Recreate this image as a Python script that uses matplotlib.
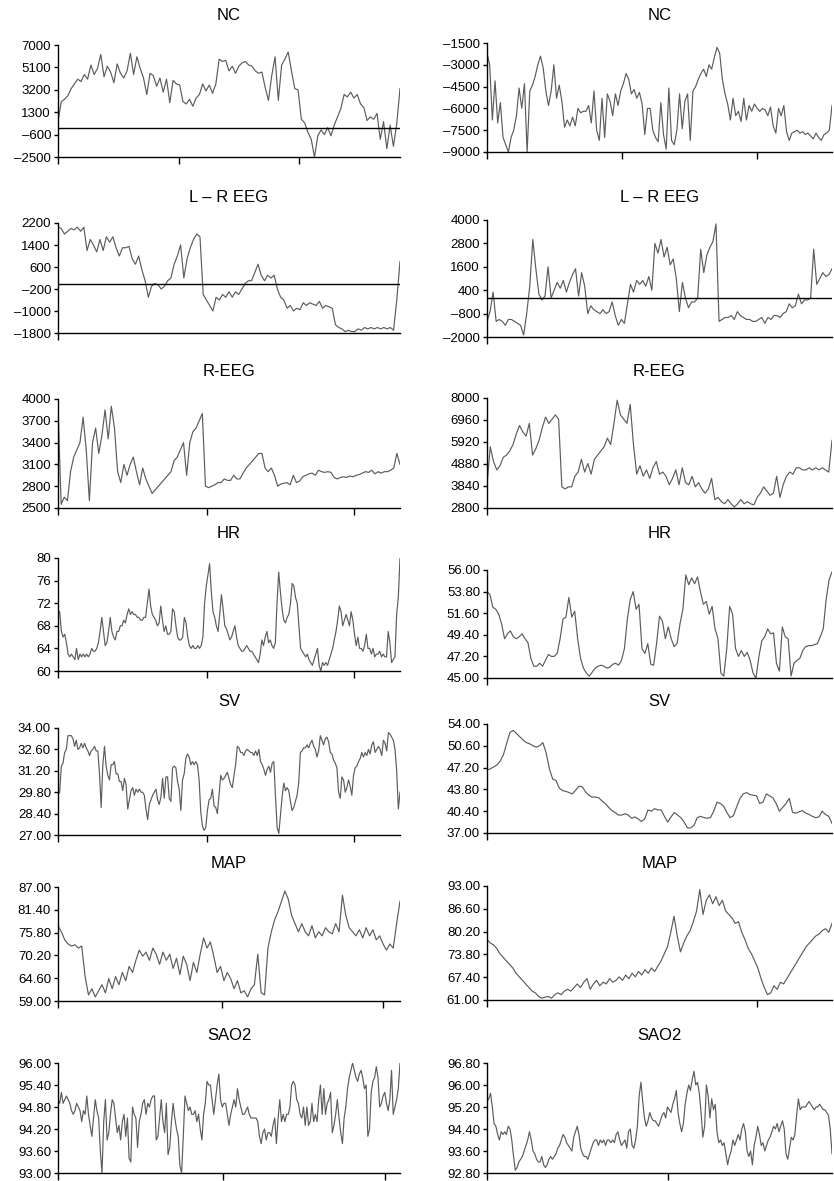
import numpy as np
import matplotlib
matplotlib.use("Agg")
import matplotlib.pyplot as plt

plt.rcParams['font.family'] = ['Liberation Sans', 'DejaVu Sans']

#### DATA (x = sample index)
nc_left = [500, 2200, 2400, 2700, 3300, 3700, 4100, 3900, 4500, 4100, 5300, 4500, 5000, 6200, 4300,
           5200, 4700, 3800, 5400, 4600, 4200, 4800, 6300, 4500, 6000, 5000, 4200, 2800, 4600, 4400,
           3500, 4200, 3000, 4100, 2100, 4000, 3700, 3600, 2200, 2000, 2400, 1800, 2500, 2800, 3700,
           3100, 3600, 2900, 3700, 5800, 5600, 5700, 4800, 5200, 4600, 5200, 5500, 5600, 5300, 5200,
           4800, 4600, 4700, 3400, 2300, 4400, 6000, 2300, 5300, 5800, 6400, 4800, 3300, 3200, 700,
           400, -400, -1000, -2500, -700, -200, -600, 0, -700, 200, 900, 1600, 2800, 2600, 3000,
           2500, 2800, 2000, 1700, 600, 900, 700, 1200, -1000, 500, -1800, 200, -1600, 300, 3300]

nc_right = [-2200, -3000, -6800, -4100, -7000, -5600, -8000, -8500, -9000, -8000, -7500, -6500,
            -4600, -6000, -4300, -9000, -4800, -4400, -3800, -3000, -2400, -3200, -4800, -5800,
            -4800, -3000, -5300, -4400, -5500, -7300, -6800, -7200, -6600, -7200, -6000, -6300,
            -6200, -6200, -5800, -7000, -4800, -7500, -8200, -5300, -8000, -5000, -5500, -6500,
            -5000, -5800, -4800, -4300, -3600, -4000, -5000, -4700, -5300, -4900, -5700, -7800,
            -6000, -6000, -7500, -8000, -8300, -5600, -7800, -8800, -4600, -8200, -8500, -7500,
            -5000, -7400, -5500, -5000, -8200, -4800, -4500, -4000, -3600, -3300, -3800, -3000,
            -3300, -2500, -1800, -2200, -4000, -5000, -5700, -6800, -5300, -6500, -6200, -6900,
            -5300, -6800, -5800, -6200, -5700, -6000, -6200, -6000, -6100, -6500, -5900, -7200,
            -7700, -6000, -6500, -5800, -7600, -8200, -7700, -7600, -7500, -7700, -7600, -7800,
            -7700, -7900, -8100, -7700, -8000, -8200, -7800, -7700, -7500, -5800]

lr_left = [2050, 2000, 1800, 1900, 2000, 1950, 2050, 1900, 2050, 1200, 1600, 1400, 1150, 1600, 1200,
           1700, 1500, 1700, 1300, 1000, 1300, 1300, 1350, 900, 700, 1000, 500, 100, -500, -100,
           0, -50, -200, -100, 100, 200, 700, 1000, 1400, 200, 900, 1300, 1600, 1800, 1700,
           -400, -600, -800, -1000, -500, -600, -400, -500, -300, -500, -300, -400, -200, 0, 100,
           100, 400, 700, 300, 100, 300, 200, 300, -200, -500, -600, -900, -800, -1000, -900,
           -950, -700, -800, -700, -750, -800, -650, -900, -800, -850, -900, -1500, -1600, -1650,
           -1750, -1700, -1750, -1750, -1650, -1700, -1600, -1650, -1600, -1650, -1600, -1650,
           -1600, -1650, -1600, -1700, -600, 800]

lr_right = [-1200, -700, 300, -1200, -1100, -1200, -1400, -1100, -1100, -1200, -1300, -1400, -1900,
            -800, 600, 3000, 1500, 200, -100, 100, 1600, 0, 400, 800, 500, 900, 300, 800, 1200,
            1500, 100, 1300, 600, -800, -400, -600, -700, -800, -600, -800, -700, -200, -900,
            -1400, -1100, -1300, -300, 700, 300, 900, 700, 900, 600, 1100, 400, 2800, 2300, 3000,
            2100, 2600, 1700, 2000, 1000, -700, 800, 0, -500, -200, -200, 0, 2500, 1300, 2200,
            2600, 2900, 3800, -1200, -1100, -1000, -1000, -900, -1100, -700, -900, -1000, -1100,
            -1100, -1200, -1200, -1100, -1000, -1300, -1000, -1100, -900, -900, -1000, -800, -700,
            -300, -500, -400, 200, -300, -100, -100, 0, 2500, 700, 1000, 1300, 1100, 1200, 1500]

reeg_left = [3900, 2550, 2650, 2600, 3000, 3200, 3300, 3400, 3750, 3300, 2600, 3400, 3600, 3250,
             3500, 3850, 3450, 3900, 3600, 3000, 2850, 3100, 2950, 3100, 3200, 3000, 2820, 3050,
             2900, 2800, 2700, 2750, 2800, 2850, 2900, 2950, 3000, 3150, 3200, 3300, 3400, 2950,
             3400, 3550, 3600, 3700, 3800, 2800, 2780, 2800, 2820, 2850, 2850, 2900, 2880, 2880,
             2950, 2900, 2900, 2980, 3050, 3100, 3150, 3200, 3250, 3250, 3050, 3000, 3050, 2950,
             2800, 2830, 2840, 2850, 2820, 2950, 2850, 2870, 2930, 2950, 2970, 2980, 2950, 3020,
             3000, 2990, 3000, 2990, 2920, 2900, 2920, 2930, 2920, 2940, 2930, 2950, 2960, 2980,
             3000, 2990, 3020, 2970, 3000, 2980, 3000, 3000, 3020, 3050, 3250, 3100]

reeg_right = [3900, 5700, 5000, 4600, 4800, 5200, 5300, 5500, 5800, 6300, 6700, 6400, 6200, 6800,
              5300, 5600, 6000, 6600, 7100, 6800, 7000, 7200, 7000, 3800, 3700, 3800, 3800, 4300,
              4500, 5100, 4500, 4900, 4400, 5100, 5300, 5500, 5700, 6100, 5800, 6800, 7900, 7200,
              7000, 6800, 7700, 5800, 4400, 4800, 4300, 4600, 4200, 4700, 5000, 4400, 4500, 4300,
              3900, 4200, 4600, 3900, 4700, 4000, 3900, 4300, 3800, 4000, 3700, 3500, 3700, 4200,
              3200, 3300, 3100, 3000, 3200, 3000, 2850, 3000, 3200, 3000, 3100, 3000, 2950, 3300,
              3500, 3800, 3600, 3400, 3500, 4300, 3300, 3900, 4300, 4500, 4400, 4700, 4700, 4600,
              4600, 4700, 4600, 4700, 4600, 4700, 4600, 4500, 6000]

hr_left = [70.5, 70.5, 67, 66, 66.5, 65, 63, 62.5, 63, 62.5, 62, 64, 62, 63, 62.5, 63, 62.5, 63,
           62.5, 63, 64, 63.5, 63.5, 64, 65, 67, 69.5, 67, 64.5, 65, 67, 69.5, 67, 66, 65.5, 67,
           67, 68, 68, 69, 68.5, 70, 71, 70, 70.5, 70, 70, 69.5, 69.5, 69, 69, 69.5, 69.5, 72,
           74.5, 71.5, 70, 69.5, 69, 68, 68.5, 71.5, 69, 67, 68, 66.5, 66.5, 67, 71, 70.5, 68, 66,
           65.5, 65.5, 66, 69.5, 68.5, 66, 64.5, 64, 64.5, 64, 64, 64.5, 64, 64.5, 66, 72, 75, 77,
           79, 74, 70.5, 69.5, 68, 67, 70, 73.5, 71, 68, 67.5, 66.5, 65.5, 66, 67, 68, 66, 64.5,
           64, 63.5, 63.5, 64, 64.5, 64, 63.5, 63.5, 63, 62.5, 62, 61.5, 63, 65.5, 64.5, 66, 67,
           65, 65.5, 64.5, 64, 65, 72, 77.5, 74, 71, 69, 68.5, 69.5, 70, 72, 75.5, 75, 73, 72, 68,
           64, 63.5, 63, 62.5, 63, 62, 61.5, 61, 62, 63, 64, 61, 60, 61.5, 61, 61.5, 61, 62, 63,
           64, 65.5, 67, 69, 71.5, 70.5, 68, 69, 70, 69, 68, 70.5, 69, 66.5, 64.5, 66, 64, 64,
           63.5, 64.5, 66.5, 64, 64, 63, 64, 62.5, 63, 63, 63.5, 62.5, 63, 62.5, 62.5, 67, 65,
           61.5, 62, 62.5, 70, 73, 80]

hr_right = [53.8, 53.5, 52.2, 52, 51.5, 50.5, 49, 49.5, 49.8, 49.2, 49, 49.2, 49.5, 49, 48.6, 47,
            46.2, 46.2, 46.5, 46.2, 46.8, 47.4, 47.2, 47.2, 47.5, 49, 51, 51.2, 53.2, 51.2, 51.8,
            49, 47, 46, 45.5, 45.2, 45.6, 46, 46.2, 46.3, 46.2, 46, 46.1, 46.4, 46.5, 46.3, 46.8,
            48, 51, 53, 53.8, 52, 52.5, 48, 47.5, 48.5, 46.4, 46.3, 48.5, 51.3, 50.8, 49, 50.2, 49,
            48.2, 48.5, 50.5, 52, 55.5, 54.5, 55.2, 54.6, 55.3, 53.8, 52.5, 52.8, 51.5, 52.3, 50,
            49, 45.5, 45.2, 48, 52.3, 51.5, 48, 47.2, 47.8, 47.2, 47.6, 46.8, 45.5, 45, 47.2, 48.8,
            49.2, 50, 49.5, 49.6, 46.5, 45.7, 50.2, 49.2, 49, 45.2, 46.5, 46.8, 47, 47.8, 48.2,
            48.3, 48.3, 48.4, 48.5, 49.2, 50, 53, 55, 55.8]

sv_left = [29.6, 29.8, 31.5, 31.7, 32.4, 32.6, 33.5, 33.5, 33.5, 33.3, 32.8, 33.2, 32.6, 32.7, 33,
           32.7, 33, 32.7, 32.5, 32.2, 32.5, 32.6, 32.8, 32.5, 32.5, 31, 28.8, 31.6, 32.8, 31.5,
           30.9, 30.6, 31.6, 31.6, 31.8, 31, 31, 30.5, 30.5, 29.9, 30.7, 30.3, 28.7, 29.3, 29.9,
           30.1, 29.6, 30, 29.8, 30, 29.8, 29.8, 29.6, 28.7, 28, 29, 29.3, 29.6, 29.8, 30, 29.3,
           29, 29.5, 30.7, 29.4, 30.8, 30.8, 29.4, 29.2, 31.4, 31.5, 31.4, 30.5, 30, 28.6, 30.6,
           31, 32, 32.3, 32.1, 31.6, 31.8, 31.6, 31.8, 31.6, 30.6, 28.5, 27.6, 27.3, 27.5, 28.6,
           29.3, 29.4, 30, 28.9, 28.8, 28.4, 29.6, 30.9, 30.6, 30.7, 30.9, 31.1, 30.7, 30.3, 30.1,
           30.9, 31.6, 32.8, 32.7, 32.4, 32.4, 32.2, 32.5, 32.6, 32.5, 32.4, 32.4, 32.2, 32.5,
           32.2, 32.6, 31.8, 31.6, 31.3, 30.9, 31.3, 31.5, 31.1, 31.7, 31.8, 29.5, 27.5, 27.1,
           28.3, 29.5, 30.4, 29.9, 30.1, 29.9, 29.2, 28.6, 28.8, 29.2, 29.6, 30.4, 32.4, 32.5,
           32.7, 32.7, 32.9, 32.7, 33.0, 33.2, 32.8, 32.6, 32.1, 32.5, 33.5, 33.2, 32.9, 33.3,
           33.4, 33.1, 32.4, 32.3, 31.9, 31.7, 31.4, 29.8, 29.4, 30.8, 30.6, 29.8, 30.1, 30.6,
           30.2, 29.6, 30.9, 31.4, 31.5, 31.8, 32, 32.4, 32.1, 32.4, 32.2, 32.6, 32.3, 32.9, 33.1,
           32.4, 32.6, 32.8, 32.6, 32.2, 33.2, 33, 32.5, 33.7, 33.6, 33.4, 33.2, 32.6, 31.2, 28.7,
           29.8]

sv_right = [46.8, 47, 47.3, 47.6, 48.2, 49.2, 51, 52.7, 53, 52.5, 52, 51.5, 51.1, 50.9, 50.6, 50.4,
            50.6, 51.1, 49.5, 47, 45.4, 45.2, 44, 43.6, 43.5, 43.3, 43.1, 43.7, 44.3, 44.2, 43.4,
            42.9, 42.6, 42.6, 42.5, 42, 41.6, 41, 40.5, 40.2, 39.8, 39.8, 40, 39.8, 39.3, 39.5,
            39.2, 38.8, 39.2, 40.6, 40.4, 40.8, 40.6, 40.6, 39.6, 38.7, 39.5, 40.2, 39.8, 39.4,
            38.7, 37.8, 37.8, 38.2, 39.4, 39.6, 39.4, 39.3, 39.4, 40.4, 41.8, 41.6, 41.2, 40.2,
            39.4, 39.7, 41.1, 42.4, 43.1, 43.3, 43, 42.9, 42.8, 41.6, 41.8, 43.1, 42.8, 42.5, 41.6,
            40.4, 41, 41.6, 42.4, 40.2, 40.1, 40.3, 40.5, 40.1, 39.9, 39.6, 39.4, 39.5, 40.4, 39.9,
            39.6, 38.5]

map_left = [77.5, 76, 74, 73, 72.5, 72.8, 72, 72.5, 65, 60.5, 62, 60, 61.5, 63, 61, 64.5, 62, 65,
            63, 66, 64, 67.5, 66, 69, 71.5, 70, 71, 69, 72, 70.5, 68, 71, 69, 70.5, 67, 69.5, 65.5,
            70, 68, 64, 68.5, 66, 70.5, 74.5, 72, 73.5, 70, 66, 67.5, 64, 66, 64.5, 62, 64, 61,
            61.5, 60, 62, 63, 70.5, 61, 60.5, 72, 76, 79, 81, 83.5, 86, 84, 80, 78, 76, 78, 76, 75,
            77.5, 74.5, 76, 75, 77, 76, 75.5, 78, 76, 85, 80, 77, 76, 75, 76.5, 74.5, 77, 75, 76.5,
            74, 75, 73, 71.5, 73, 72, 78, 83.5]

map_right = [78, 77, 76.5, 75.5, 74, 73, 72, 71, 70, 68.5, 67.5, 66.5, 65.5, 64.5, 63.5, 63, 62,
             61.5, 61.8, 62, 61.5, 62.5, 63, 62.5, 63.5, 64, 63.5, 64.5, 65.5, 64.5, 66, 67, 64,
             65.5, 66.5, 65, 66, 65.5, 67, 66, 66.5, 67.5, 66.5, 68, 67, 68.5, 67.5, 69, 68, 69.5,
             68.5, 70, 69, 70.5, 72, 74, 76, 80, 84.5, 79, 74.5, 77, 79, 80.5, 83, 86, 92, 85, 89,
             90.5, 88, 90, 87.5, 89, 86, 85, 84, 82.5, 83, 80, 78, 75.5, 74, 72, 70, 67, 64.5, 62.5,
             63, 65, 64, 66, 65.5, 67, 68.5, 70, 71.5, 73, 74.5, 76, 77, 78, 79, 79.5, 80.5, 81, 80,
             82.5]

sao2_left = [95, 94.9, 95.2, 94.9, 95.0, 95.1, 95, 94.9, 94.7, 94.6, 94.7, 94.9, 94.8, 94.7, 94.4,
             94.7, 94.6, 95.1, 94.6, 94.3, 94, 94.5, 95, 94.7, 94.5, 93.6, 93, 94.4, 95.0, 93.9,
             94.1, 94.6, 95.0, 94.9, 94.5, 94.1, 94.3, 93.9, 94.4, 94.6, 94.0, 94.5, 93.4, 93.3,
             94.8, 94.6, 94.5, 93.7, 94.4, 94.6, 94.9, 95.0, 94.6, 94.9, 94.8, 95.0, 95.1, 95.1,
             93.9, 94.0, 94.5, 95.0, 94.4, 94.1, 94.9, 93.5, 93.7, 94.4, 94.9, 94.5, 94.2, 94.0,
             93.2, 93.0, 94.0, 95.1, 94.9, 94.7, 94.8, 94.6, 94.6, 94.7, 94.4, 94.6, 94.2, 93.9,
             94.6, 94.9, 95.5, 95.4, 95.4, 95.0, 94.6, 95.0, 95.4, 95.7, 95.0, 94.8, 94.9, 94.9,
             94.6, 94.3, 94.6, 94.8, 95.0, 94.8, 95.3, 95.0, 94.8, 94.6, 94.6, 94.7, 94.8, 94.6,
             94.5, 94.5, 94.5, 94.5, 94.4, 94.0, 93.8, 94.1, 94.2, 93.9, 94.1, 94.1, 94.0, 94.3,
             94.5, 93.8, 94.5, 95.0, 94.4, 94.6, 94.4, 94.6, 94.6, 94.8, 95.4, 95.5, 95.4, 95.0,
             94.9, 94.6, 94.5, 94.8, 94.3, 94.8, 94.3, 94.4, 94.9, 94.4, 94.6, 94.4, 95.0, 95.4,
             94.6, 95.3, 94.6, 94.9, 95.0, 95.2, 94.1, 94.3, 94.6, 95.0, 94.5, 94.1, 93.8, 94.5,
             94.8, 95.3, 95.6, 95.8, 96.0, 95.8, 95.6, 95.5, 95.7, 95.8, 95.6, 95.3, 95.4, 94.0,
             94.2, 95.2, 95.5, 95.6, 95.9, 95.6, 94.8, 94.9, 95.1, 95.2, 94.9, 94.7, 95.0, 95.8,
             94.6, 94.8, 95.0, 95.3, 96.0]

sao2_right = [95.4, 95.5, 95.7, 95.2, 94.6, 94.5, 94.2, 94.0, 94.3, 94.2, 94.3, 94.2, 94.5, 94.4,
              94.0, 93.4, 92.9, 93.0, 93.2, 93.3, 93.4, 93.6, 93.8, 94.0, 94.3, 94.0, 93.6, 93.5,
              93.3, 93.2, 93.2, 93.4, 93.1, 93.0, 93.1, 93.3, 93.4, 93.3, 93.4, 93.5, 93.7, 93.8,
              94.0, 94.2, 94.1, 93.9, 93.8, 93.7, 93.6, 94.1, 94.3, 94.5, 94.2, 93.7, 93.5, 93.4,
              93.4, 93.3, 93.5, 93.7, 93.9, 94.0, 94.0, 93.8, 94.0, 93.9, 94.0, 93.8, 94.0, 94.0,
              93.9, 94.0, 93.9, 94.2, 94.3, 94.0, 93.8, 93.9, 94.0, 93.7, 94.3, 94.4, 93.8, 93.7,
              94.0, 94.5, 95.6, 96.1, 95.4, 94.8, 94.5, 94.7, 95.0, 94.8, 94.7, 94.7, 94.6, 94.5,
              94.7, 94.9, 95.0, 94.8, 95.2, 95.1, 95.0, 95.3, 95.5, 95.8, 95.0, 94.6, 94.3, 94.6,
              95.3, 95.7, 96.0, 95.8, 96.2, 96.5, 96.0, 96.1, 95.7, 95.0, 94.1, 94.5, 96.0, 95.6,
              94.8, 95.5, 95.1, 95.3, 94.3, 93.9, 94.0, 93.8, 93.9, 93.5, 93.1, 93.4, 93.6, 94.0,
              93.8, 94.0, 94.2, 94.0, 94.4, 94.6, 94.3, 93.6, 93.4, 93.6, 93.1, 93.8, 94.1, 94.5,
              94.2, 93.8, 93.9, 93.6, 93.8, 94.0, 94.1, 94.3, 94.5, 94.4, 94.6, 94.3, 94.5, 94.7,
              94.4, 93.5, 93.3, 93.7, 94.1, 94.0, 94.2, 94.9, 95.5, 95.1, 95.2, 95.2, 95.2, 95.3,
              95.4, 95.3, 95.2, 95.1, 95.2, 95.2, 95.3, 95.2, 95.1, 95.1, 95.0, 94.9, 94.4, 93.5]

titles = ["NC", "L \u2013 R EEG", "R-EEG", "HR", "SV", "MAP", "SAO2"]
series_left = [nc_left, lr_left, reeg_left, hr_left, sv_left, map_left, sao2_left]
series_right = [nc_right, lr_right, reeg_right, hr_right, sv_right, map_right, sao2_right]
ylim_left = [(-2500, 7000), (-1800, 2200), (2500, 4000), (60, 80), (27, 34), (59, 87), (93, 96)]
ylim_right = [(-9000, -1500), (-2000, 4000), (2800, 8000), (45, 56), (37, 54), (61, 93), (92.8, 96.8)]
dec_left = [0, 0, 0, 0, 2, 2, 2]
dec_right = [0, 0, 0, 2, 2, 2, 2]
zero_left = [True, True, False, False, False, False, False]
zero_right = [False, True, False, False, False, False, False]

#### LAYOUT (pixels in an 834 x 1181 canvas)
W, H = 834., 1181.
col_x = [(58, 400), (487, 832)]
rows_left = [(45, 157), (223, 333), (399, 508), (558, 671), (728, 835), (887, 1001), (1063, 1173)]
rows_right = [(43, 152), (220, 337), (398, 508), (570, 678), (724, 833), (886, 1000), (1063, 1173)]
title_y = [15, 198, 371, 533, 701, 863, 1035]
# bottom axis tick spots as fraction of axis width
xt_left = [[0, .354, .705], [0], [0, .436, .865], [0, .436, .865], [0, .436, .865], [0, .48, .95], [0, .482, .956]]
xt_right = [[0, .391, .783], [0], [0], [0], [0], [0, .783], [0, .525]]

fig = plt.figure(figsize=(W / 100, H / 100), dpi=100)


def fmt(v, d):
    return "{:.{}f}".format(v, d).replace("-", "\u2013")


def panel(col, box, data, ylim, dec, zero, xt):
    x0, x1 = col_x[col]
    top, bot = box
    ax = fig.add_axes([x0 / W, 1 - bot / H, (x1 - x0) / W, (bot - top) / H])
    xs = np.arange(len(data))
    ax.plot(xs, data, color="#5c5c5c", lw=0.85)
    if zero:
        ax.axhline(0, color="black", lw=1.0)
    ax.set_xlim(0, len(data) - 1)
    ax.set_ylim(*ylim)
    yt = np.linspace(ylim[0], ylim[1], 6)
    ax.set_yticks(yt)
    ax.set_yticklabels([fmt(v, dec) for v in yt])
    ax.set_xticks([f * (len(data) - 1) for f in xt])
    ax.set_xticklabels([])
    for s in ("top", "right"):
        ax.spines[s].set_visible(False)
    for s in ("left", "bottom"):
        ax.spines[s].set_linewidth(1.0)
    ax.tick_params(axis="y", length=3, width=1.0, pad=2, labelsize=9.5, colors="black")
    ax.tick_params(axis="x", length=5, width=1.0)
    return ax


for i in range(7):
    panel(0, rows_left[i], series_left[i], ylim_left[i], dec_left[i], zero_left[i], xt_left[i])
    panel(1, rows_right[i], series_right[i], ylim_right[i], dec_right[i], zero_right[i], xt_right[i])
    for col in (0, 1):
        xc = sum(col_x[col]) / 2.
        fig.text(xc / W, 1 - title_y[i] / H, titles[i], ha="center", va="center", fontsize=12)

plt.savefig("out.png", dpi=100)
